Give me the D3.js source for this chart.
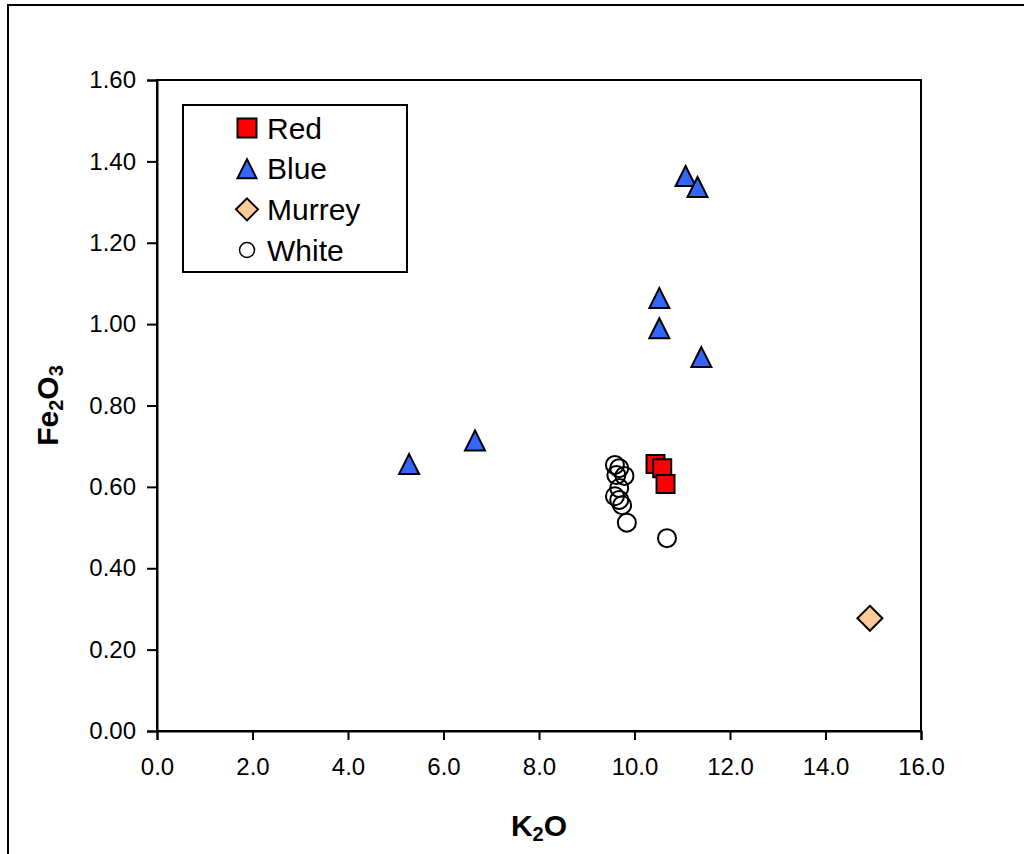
<!DOCTYPE html>
<html lang="en">
<head>
<meta charset="utf-8">
<title>Fe2O3 vs K2O</title>
<script src="https://d3js.org/d3.v7.min.js"></script>
<style>
  body { margin: 0; background: #fff; font-family: Arial, 'Liberation Sans', sans-serif; }
  .tick text { font-family: Arial, 'Liberation Sans', sans-serif; font-size: 24px; fill: #000; }
  .axistitle { font-weight: bold; font-size: 30px; }
  .legendtext { font-size: 30px; }
</style>
</head>
<body>
<div id="chart"></div>
<script>

// series values (K2O, Fe2O3)
var redK = [10.44, 10.58, 10.65];
var redFe = [0.656, 0.646, 0.607];

var blueK = [5.28, 6.66, 11.07, 11.32, 10.52, 10.52, 11.40];
var blueFe = [0.656, 0.714, 1.364, 1.337, 1.064, 0.990, 0.919];

var murreyK = [14.93];
var murreyFe = [0.277];

var whiteK = [9.59, 9.68, 9.79, 9.62, 9.68, 9.59, 9.68, 9.74, 9.84, 10.68];
var whiteFe = [0.654, 0.646, 0.627, 0.629, 0.597, 0.577, 0.568, 0.555, 0.512, 0.474];

var xTicks = [0, 2, 4, 6, 8, 10, 12, 14, 16];
var yTicks = [0, 0.2, 0.4, 0.6, 0.8, 1.0, 1.2, 1.4, 1.6];

var seriesNames = ["Red", "Blue", "Murrey", "White"];

// page size and plot box
var W = 1024, H = 854;
var plot = {left: 157, top: 80, right: 921, bottom: 731};

var svg = d3.select("#chart").append("svg")
    .attr("width", W)
    .attr("height", H);

// outer chart frame (runs off the right and bottom of the picture)
svg.append("rect")
    .attr("x", 8).attr("y", 5)
    .attr("width", 1040).attr("height", 900)
    .attr("fill", "#fff")
    .attr("stroke", "#000")
    .attr("stroke-width", 2);

var x = d3.scaleLinear().domain([0, 16]).range([plot.left, plot.right]);
var y = d3.scaleLinear().domain([0, 1.6]).range([plot.bottom, plot.top]);

// plot area border
svg.append("rect")
    .attr("x", plot.left).attr("y", plot.top)
    .attr("width", plot.right - plot.left)
    .attr("height", plot.bottom - plot.top)
    .attr("fill", "none")
    .attr("stroke", "#000")
    .attr("stroke-width", 2);

var xAxis = svg.append("g")
    .attr("transform", "translate(0," + plot.bottom + ")")
    .call(d3.axisBottom(x).tickValues(xTicks).tickSize(9).tickPadding(18)
      .tickFormat(d3.format(".1f")));

var yAxis = svg.append("g")
    .attr("transform", "translate(" + plot.left + ",0)")
    .call(d3.axisLeft(y).tickValues(yTicks).tickSize(10).tickPadding(11)
      .tickFormat(d3.format(".2f")));

[xAxis, yAxis].forEach(function(a) {
  a.select(".domain").attr("stroke-width", 2);
  a.selectAll(".tick line").attr("stroke-width", 2);
});

// axis titles
svg.append("text")
    .attr("class", "axistitle")
    .attr("x", (plot.left + plot.right) / 2)
    .attr("y", 836)
    .attr("text-anchor", "middle")
    .html('K<tspan font-size="20px" dy="5">2</tspan><tspan dy="-5">O</tspan>');

svg.append("text")
    .attr("class", "axistitle")
    .attr("transform", "translate(58," + ((plot.top + plot.bottom) / 2) + ") rotate(-90)")
    .attr("text-anchor", "middle")
    .html('Fe<tspan font-size="20px" dy="5">2</tspan><tspan dy="-5">O</tspan><tspan font-size="20px" dy="5">3</tspan>');

// marker shapes, centred on their bounding box
function squarePath(s) {
  var h = s / 2;
  return "M" + (-h) + "," + (-h) + "H" + h + "V" + h + "H" + (-h) + "Z";
}
function trianglePath(s) {
  var h = s / 2;
  return "M0," + (-h) + "L" + h + "," + h + "L" + (-h) + "," + h + "Z";
}
function diamondPath(s) {
  var h = s / 2;
  return "M0," + (-h) + "L" + h + ",0L0," + h + "L" + (-h) + ",0Z";
}
function circlePath(s) {
  var r = s / 2;
  return "M" + r + ",0A" + r + "," + r + " 0 1,1 " + (-r) + ",0A" + r + "," + r + " 0 1,1 " + r + ",0Z";
}

var styles = {
  Red:    {fill: "#ff0000", mark: "#ff0000", shape: squarePath,   size: 18, lsize: 19},
  Blue:   {fill: "#3366ff", mark: "#3366ff", shape: trianglePath, size: 20, lsize: 19},
  Murrey: {fill: "#ffcc99", mark: "#ffcc99", shape: diamondPath,  size: 25, lsize: 22},
  White:  {fill: "#ffffff", mark: "none",    shape: circlePath,   size: 18, lsize: 15}
};

function pairs(xs, ys) {
  return xs.map(function(v, i) { return {k: v, fe: ys[i]}; });
}

var seriesData = {
  Red: pairs(redK, redFe),
  Blue: pairs(blueK, blueFe),
  Murrey: pairs(murreyK, murreyFe),
  White: pairs(whiteK, whiteFe)
};

["White", "Murrey", "Red", "Blue"].forEach(function(name) {
  var st = styles[name];
  svg.append("g").selectAll("path")
    .data(seriesData[name])
    .enter().append("path")
      .attr("transform", function(d) { return "translate(" + x(d.k) + "," + y(d.fe) + ")"; })
      .attr("d", st.shape(st.size))
      .attr("fill", st.mark)
      .attr("stroke", "#000")
      .attr("stroke-width", 2);
});

// legend
var legend = svg.append("g");
legend.append("rect")
    .attr("x", 183).attr("y", 105)
    .attr("width", 224).attr("height", 167)
    .attr("fill", "#fff")
    .attr("stroke", "#000")
    .attr("stroke-width", 2);

var rowY = d3.scalePoint().domain(seriesNames).range([128, 250]);

var item = legend.selectAll("g.item")
    .data(seriesNames)
    .enter().append("g")
      .attr("class", "item")
      .attr("transform", function(d) { return "translate(247," + rowY(d) + ")"; });

item.append("path")
    .attr("d", function(d) { return styles[d].shape(styles[d].lsize); })
    .attr("fill", function(d) { return styles[d].fill; })
    .attr("stroke", "#000")
    .attr("stroke-width", function(d) { return d === "White" ? 1.5 : 2; });

item.append("text")
    .attr("class", "legendtext")
    .attr("x", 20)
    .attr("dy", "0.36em")
    .text(function(d) { return d; });

</script>
</body>
</html>
